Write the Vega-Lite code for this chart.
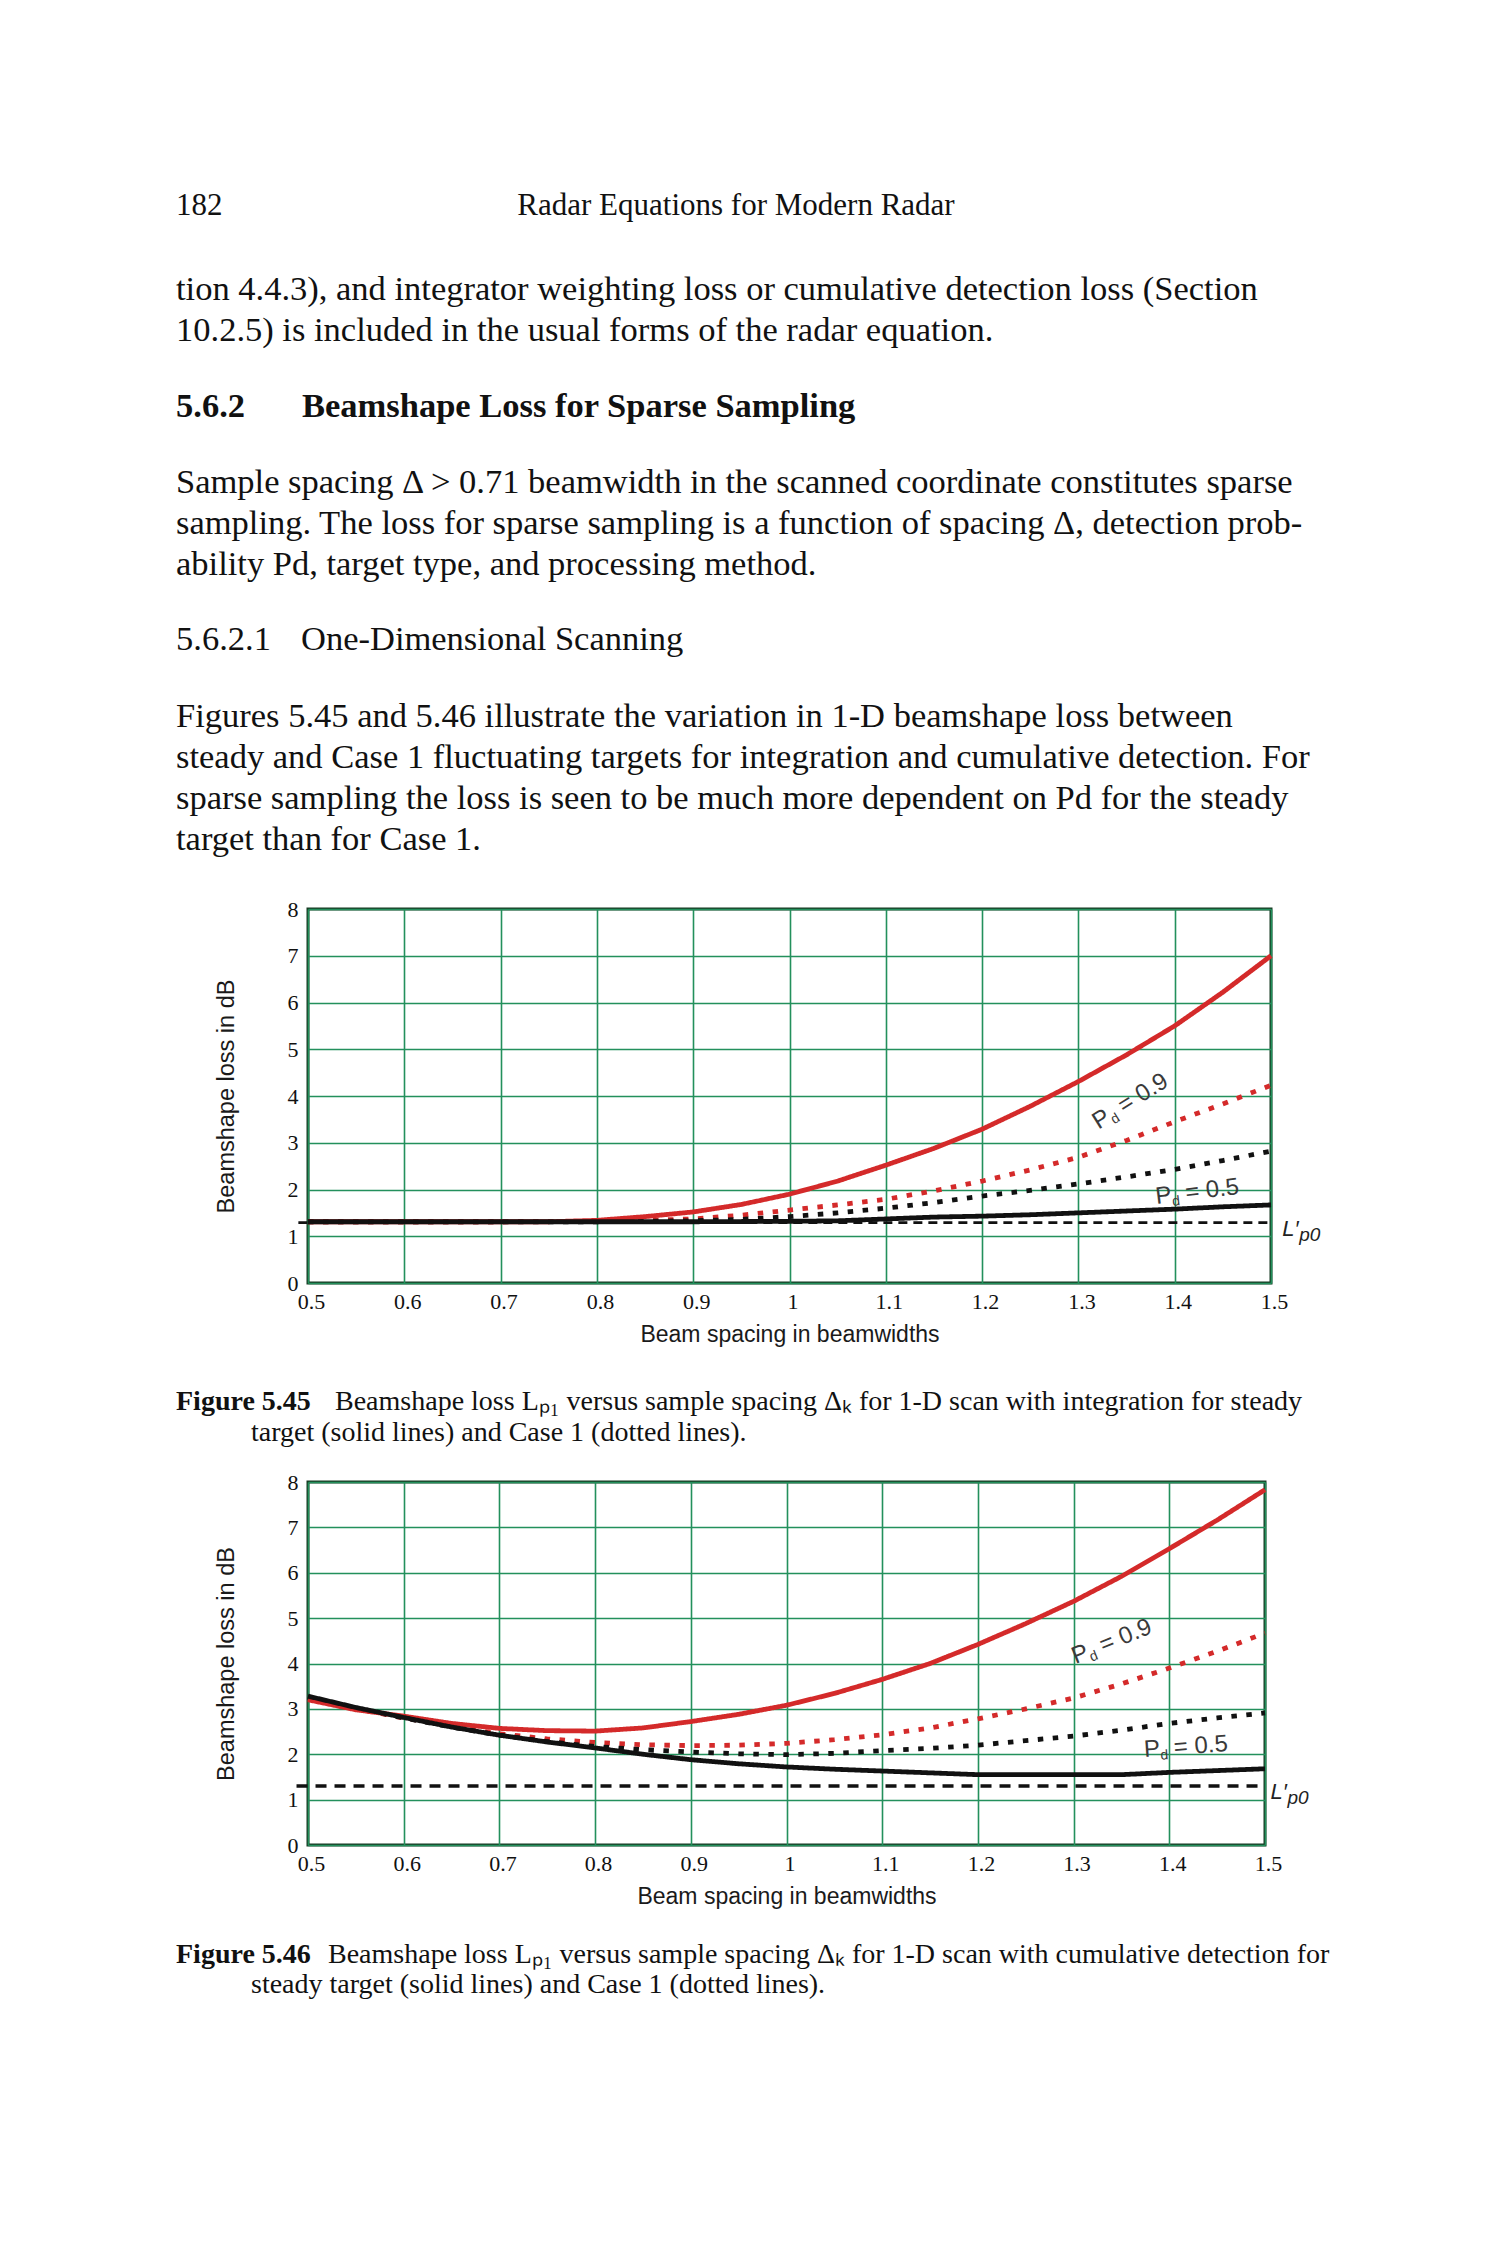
{
  "$schema": "https://vega.github.io/schema/vega-lite/v6.json",
  "background": "white",
  "padding": {"left": 176, "top": 183, "right": 20, "bottom": 20},
  "autosize": {"type": "pad"},
  "bounds": "flush",
  "spacing": 0,
  "config": {
    "view": {"stroke": null},
    "axisX": {"grid": true, "gridColor": "#23905c", "gridWidth": 1.6, "domain": false, "ticks": false, "labelFont": "Liberation Serif", "labelFontSize": 22, "labelColor": "#111111", "labelPadding": 8, "labelOffset": 3, "labelFlush": false, "labelOverlap": false, "titleFont": "Liberation Sans", "titleFontSize": 23, "titleFontWeight": "normal", "titleColor": "#1a1a1a", "titlePadding": 11},
    "axisY": {"grid": true, "gridColor": "#23905c", "gridWidth": 1.6, "domain": false, "ticks": false, "labelFont": "Liberation Serif", "labelFontSize": 22, "labelColor": "#111111", "labelPadding": 10, "labelFlush": false, "labelOverlap": false, "titleFont": "Liberation Sans", "titleFontSize": 23.5, "titleFontWeight": "normal", "titleColor": "#1a1a1a", "titlePadding": 49}
  },
  "datasets": {
    "page": [
      {"block": "folio", "line": 0, "text": "182"},
      {"block": "runninghead", "line": 0, "text": "Radar Equations for Modern Radar"},
      {"block": "p1", "line": 0, "text": "tion 4.4.3), and integrator weighting loss or cumulative detection loss (Section"},
      {"block": "p1", "line": 1, "text": "10.2.5) is included in the usual forms of the radar equation."},
      {"block": "h2num", "line": 0, "text": "5.6.2"},
      {"block": "h2", "line": 0, "text": "Beamshape Loss for Sparse Sampling"},
      {"block": "p2", "line": 0, "text": "Sample spacing Δ > 0.71 beamwidth in the scanned coordinate constitutes sparse"},
      {"block": "p2", "line": 1, "text": "sampling. The loss for sparse sampling is a function of spacing Δ, detection prob-"},
      {"block": "p2", "line": 2, "text": "ability Pd, target type, and processing method."},
      {"block": "h3num", "line": 0, "text": "5.6.2.1"},
      {"block": "h3", "line": 0, "text": "One-Dimensional Scanning"},
      {"block": "p3", "line": 0, "text": "Figures 5.45 and 5.46 illustrate the variation in 1-D beamshape loss between"},
      {"block": "p3", "line": 1, "text": "steady and Case 1 fluctuating targets for integration and cumulative detection. For"},
      {"block": "p3", "line": 2, "text": "sparse sampling the loss is seen to be much more dependent on Pd for the steady"},
      {"block": "p3", "line": 3, "text": "target than for Case 1."},
      {"block": "cap545label", "line": 0, "text": "Figure 5.45"},
      {"block": "cap545", "line": 0, "text": "Beamshape loss Lₚ₁ versus sample spacing Δₖ for 1-D scan with integration for steady"},
      {"block": "cap545", "line": 1, "text": "target (solid lines) and Case 1 (dotted lines)."},
      {"block": "cap546label", "line": 0, "text": "Figure 5.46"},
      {"block": "cap546", "line": 0, "text": "Beamshape loss Lₚ₁ versus sample spacing Δₖ for 1-D scan with cumulative detection for"},
      {"block": "cap546", "line": 1, "text": "steady target (solid lines) and Case 1 (dotted lines)."}
    ],
    "fig545": [
      {"series": "Case 1, Pd = 0.9", "spacing": 0.5, "loss": 1.31},
      {"series": "Case 1, Pd = 0.9", "spacing": 0.6, "loss": 1.31},
      {"series": "Case 1, Pd = 0.9", "spacing": 0.7, "loss": 1.31},
      {"series": "Case 1, Pd = 0.9", "spacing": 0.8, "loss": 1.32},
      {"series": "Case 1, Pd = 0.9", "spacing": 0.85, "loss": 1.34},
      {"series": "Case 1, Pd = 0.9", "spacing": 0.9, "loss": 1.37},
      {"series": "Case 1, Pd = 0.9", "spacing": 0.95, "loss": 1.45},
      {"series": "Case 1, Pd = 0.9", "spacing": 1.0, "loss": 1.56},
      {"series": "Case 1, Pd = 0.9", "spacing": 1.05, "loss": 1.67},
      {"series": "Case 1, Pd = 0.9", "spacing": 1.1, "loss": 1.79},
      {"series": "Case 1, Pd = 0.9", "spacing": 1.15, "loss": 1.97},
      {"series": "Case 1, Pd = 0.9", "spacing": 1.2, "loss": 2.18},
      {"series": "Case 1, Pd = 0.9", "spacing": 1.25, "loss": 2.42},
      {"series": "Case 1, Pd = 0.9", "spacing": 1.3, "loss": 2.69},
      {"series": "Case 1, Pd = 0.9", "spacing": 1.35, "loss": 3.05},
      {"series": "Case 1, Pd = 0.9", "spacing": 1.4, "loss": 3.45},
      {"series": "Case 1, Pd = 0.9", "spacing": 1.45, "loss": 3.83},
      {"series": "Case 1, Pd = 0.9", "spacing": 1.5, "loss": 4.23},
      {"series": "Case 1, Pd = 0.5", "spacing": 0.5, "loss": 1.31},
      {"series": "Case 1, Pd = 0.5", "spacing": 0.6, "loss": 1.31},
      {"series": "Case 1, Pd = 0.5", "spacing": 0.7, "loss": 1.31},
      {"series": "Case 1, Pd = 0.5", "spacing": 0.8, "loss": 1.31},
      {"series": "Case 1, Pd = 0.5", "spacing": 0.85, "loss": 1.32},
      {"series": "Case 1, Pd = 0.5", "spacing": 0.9, "loss": 1.33},
      {"series": "Case 1, Pd = 0.5", "spacing": 0.95, "loss": 1.36},
      {"series": "Case 1, Pd = 0.5", "spacing": 1.0, "loss": 1.42},
      {"series": "Case 1, Pd = 0.5", "spacing": 1.05, "loss": 1.5},
      {"series": "Case 1, Pd = 0.5", "spacing": 1.1, "loss": 1.6},
      {"series": "Case 1, Pd = 0.5", "spacing": 1.15, "loss": 1.72},
      {"series": "Case 1, Pd = 0.5", "spacing": 1.2, "loss": 1.86},
      {"series": "Case 1, Pd = 0.5", "spacing": 1.25, "loss": 1.98},
      {"series": "Case 1, Pd = 0.5", "spacing": 1.3, "loss": 2.12},
      {"series": "Case 1, Pd = 0.5", "spacing": 1.35, "loss": 2.27},
      {"series": "Case 1, Pd = 0.5", "spacing": 1.4, "loss": 2.43},
      {"series": "Case 1, Pd = 0.5", "spacing": 1.45, "loss": 2.62},
      {"series": "Case 1, Pd = 0.5", "spacing": 1.5, "loss": 2.82},
      {"series": "Steady target, Pd = 0.9", "spacing": 0.5, "loss": 1.31},
      {"series": "Steady target, Pd = 0.9", "spacing": 0.6, "loss": 1.31},
      {"series": "Steady target, Pd = 0.9", "spacing": 0.7, "loss": 1.31},
      {"series": "Steady target, Pd = 0.9", "spacing": 0.75, "loss": 1.31},
      {"series": "Steady target, Pd = 0.9", "spacing": 0.8, "loss": 1.34},
      {"series": "Steady target, Pd = 0.9", "spacing": 0.85, "loss": 1.42},
      {"series": "Steady target, Pd = 0.9", "spacing": 0.9, "loss": 1.52},
      {"series": "Steady target, Pd = 0.9", "spacing": 0.95, "loss": 1.68},
      {"series": "Steady target, Pd = 0.9", "spacing": 1.0, "loss": 1.9},
      {"series": "Steady target, Pd = 0.9", "spacing": 1.05, "loss": 2.18},
      {"series": "Steady target, Pd = 0.9", "spacing": 1.1, "loss": 2.52},
      {"series": "Steady target, Pd = 0.9", "spacing": 1.15, "loss": 2.88},
      {"series": "Steady target, Pd = 0.9", "spacing": 1.2, "loss": 3.29},
      {"series": "Steady target, Pd = 0.9", "spacing": 1.25, "loss": 3.78},
      {"series": "Steady target, Pd = 0.9", "spacing": 1.3, "loss": 4.31},
      {"series": "Steady target, Pd = 0.9", "spacing": 1.35, "loss": 4.88},
      {"series": "Steady target, Pd = 0.9", "spacing": 1.4, "loss": 5.5},
      {"series": "Steady target, Pd = 0.9", "spacing": 1.45, "loss": 6.22},
      {"series": "Steady target, Pd = 0.9", "spacing": 1.5, "loss": 7.0},
      {"series": "Steady target, Pd = 0.5", "spacing": 0.5, "loss": 1.31},
      {"series": "Steady target, Pd = 0.5", "spacing": 0.6, "loss": 1.31},
      {"series": "Steady target, Pd = 0.5", "spacing": 0.7, "loss": 1.31},
      {"series": "Steady target, Pd = 0.5", "spacing": 0.8, "loss": 1.31},
      {"series": "Steady target, Pd = 0.5", "spacing": 0.9, "loss": 1.31},
      {"series": "Steady target, Pd = 0.5", "spacing": 1.0, "loss": 1.32},
      {"series": "Steady target, Pd = 0.5", "spacing": 1.05, "loss": 1.33},
      {"series": "Steady target, Pd = 0.5", "spacing": 1.1, "loss": 1.37},
      {"series": "Steady target, Pd = 0.5", "spacing": 1.15, "loss": 1.41},
      {"series": "Steady target, Pd = 0.5", "spacing": 1.2, "loss": 1.43},
      {"series": "Steady target, Pd = 0.5", "spacing": 1.25, "loss": 1.46},
      {"series": "Steady target, Pd = 0.5", "spacing": 1.3, "loss": 1.5},
      {"series": "Steady target, Pd = 0.5", "spacing": 1.35, "loss": 1.54},
      {"series": "Steady target, Pd = 0.5", "spacing": 1.4, "loss": 1.58},
      {"series": "Steady target, Pd = 0.5", "spacing": 1.45, "loss": 1.63},
      {"series": "Steady target, Pd = 0.5", "spacing": 1.5, "loss": 1.67}
    ],
    "fig546": [
      {"series": "Case 1, Pd = 0.9", "spacing": 0.5, "loss": 3.22},
      {"series": "Case 1, Pd = 0.9", "spacing": 0.55, "loss": 3.0},
      {"series": "Case 1, Pd = 0.9", "spacing": 0.6, "loss": 2.8},
      {"series": "Case 1, Pd = 0.9", "spacing": 0.65, "loss": 2.62},
      {"series": "Case 1, Pd = 0.9", "spacing": 0.7, "loss": 2.45},
      {"series": "Case 1, Pd = 0.9", "spacing": 0.75, "loss": 2.34},
      {"series": "Case 1, Pd = 0.9", "spacing": 0.8, "loss": 2.26},
      {"series": "Case 1, Pd = 0.9", "spacing": 0.85, "loss": 2.21},
      {"series": "Case 1, Pd = 0.9", "spacing": 0.9, "loss": 2.19},
      {"series": "Case 1, Pd = 0.9", "spacing": 0.95, "loss": 2.2},
      {"series": "Case 1, Pd = 0.9", "spacing": 1.0, "loss": 2.24},
      {"series": "Case 1, Pd = 0.9", "spacing": 1.05, "loss": 2.32},
      {"series": "Case 1, Pd = 0.9", "spacing": 1.1, "loss": 2.43},
      {"series": "Case 1, Pd = 0.9", "spacing": 1.15, "loss": 2.58},
      {"series": "Case 1, Pd = 0.9", "spacing": 1.2, "loss": 2.78},
      {"series": "Case 1, Pd = 0.9", "spacing": 1.25, "loss": 3.0},
      {"series": "Case 1, Pd = 0.9", "spacing": 1.3, "loss": 3.24},
      {"series": "Case 1, Pd = 0.9", "spacing": 1.35, "loss": 3.55},
      {"series": "Case 1, Pd = 0.9", "spacing": 1.4, "loss": 3.9},
      {"series": "Case 1, Pd = 0.9", "spacing": 1.45, "loss": 4.27},
      {"series": "Case 1, Pd = 0.9", "spacing": 1.5, "loss": 4.67},
      {"series": "Case 1, Pd = 0.5", "spacing": 0.5, "loss": 3.26},
      {"series": "Case 1, Pd = 0.5", "spacing": 0.55, "loss": 3.02},
      {"series": "Case 1, Pd = 0.5", "spacing": 0.6, "loss": 2.8},
      {"series": "Case 1, Pd = 0.5", "spacing": 0.65, "loss": 2.6},
      {"series": "Case 1, Pd = 0.5", "spacing": 0.7, "loss": 2.42},
      {"series": "Case 1, Pd = 0.5", "spacing": 0.75, "loss": 2.28},
      {"series": "Case 1, Pd = 0.5", "spacing": 0.8, "loss": 2.17},
      {"series": "Case 1, Pd = 0.5", "spacing": 0.85, "loss": 2.1},
      {"series": "Case 1, Pd = 0.5", "spacing": 0.9, "loss": 2.05},
      {"series": "Case 1, Pd = 0.5", "spacing": 0.95, "loss": 2.01},
      {"series": "Case 1, Pd = 0.5", "spacing": 1.0, "loss": 1.99},
      {"series": "Case 1, Pd = 0.5", "spacing": 1.05, "loss": 2.02},
      {"series": "Case 1, Pd = 0.5", "spacing": 1.1, "loss": 2.08},
      {"series": "Case 1, Pd = 0.5", "spacing": 1.15, "loss": 2.13},
      {"series": "Case 1, Pd = 0.5", "spacing": 1.2, "loss": 2.2},
      {"series": "Case 1, Pd = 0.5", "spacing": 1.25, "loss": 2.3},
      {"series": "Case 1, Pd = 0.5", "spacing": 1.3, "loss": 2.4},
      {"series": "Case 1, Pd = 0.5", "spacing": 1.35, "loss": 2.53},
      {"series": "Case 1, Pd = 0.5", "spacing": 1.4, "loss": 2.68},
      {"series": "Case 1, Pd = 0.5", "spacing": 1.45, "loss": 2.8},
      {"series": "Case 1, Pd = 0.5", "spacing": 1.5, "loss": 2.91},
      {"series": "Steady target, Pd = 0.9", "spacing": 0.5, "loss": 3.2},
      {"series": "Steady target, Pd = 0.9", "spacing": 0.55, "loss": 2.98},
      {"series": "Steady target, Pd = 0.9", "spacing": 0.6, "loss": 2.84},
      {"series": "Steady target, Pd = 0.9", "spacing": 0.65, "loss": 2.68},
      {"series": "Steady target, Pd = 0.9", "spacing": 0.7, "loss": 2.57},
      {"series": "Steady target, Pd = 0.9", "spacing": 0.75, "loss": 2.52},
      {"series": "Steady target, Pd = 0.9", "spacing": 0.8, "loss": 2.51},
      {"series": "Steady target, Pd = 0.9", "spacing": 0.85, "loss": 2.58},
      {"series": "Steady target, Pd = 0.9", "spacing": 0.9, "loss": 2.72},
      {"series": "Steady target, Pd = 0.9", "spacing": 0.95, "loss": 2.88},
      {"series": "Steady target, Pd = 0.9", "spacing": 1.0, "loss": 3.08},
      {"series": "Steady target, Pd = 0.9", "spacing": 1.05, "loss": 3.34},
      {"series": "Steady target, Pd = 0.9", "spacing": 1.1, "loss": 3.65},
      {"series": "Steady target, Pd = 0.9", "spacing": 1.15, "loss": 4.0},
      {"series": "Steady target, Pd = 0.9", "spacing": 1.2, "loss": 4.42},
      {"series": "Steady target, Pd = 0.9", "spacing": 1.25, "loss": 4.88},
      {"series": "Steady target, Pd = 0.9", "spacing": 1.3, "loss": 5.37},
      {"series": "Steady target, Pd = 0.9", "spacing": 1.35, "loss": 5.92},
      {"series": "Steady target, Pd = 0.9", "spacing": 1.4, "loss": 6.53},
      {"series": "Steady target, Pd = 0.9", "spacing": 1.45, "loss": 7.16},
      {"series": "Steady target, Pd = 0.9", "spacing": 1.5, "loss": 7.83},
      {"series": "Steady target, Pd = 0.5", "spacing": 0.5, "loss": 3.28},
      {"series": "Steady target, Pd = 0.5", "spacing": 0.55, "loss": 3.03},
      {"series": "Steady target, Pd = 0.5", "spacing": 0.6, "loss": 2.81},
      {"series": "Steady target, Pd = 0.5", "spacing": 0.65, "loss": 2.6},
      {"series": "Steady target, Pd = 0.5", "spacing": 0.7, "loss": 2.42},
      {"series": "Steady target, Pd = 0.5", "spacing": 0.75, "loss": 2.27},
      {"series": "Steady target, Pd = 0.5", "spacing": 0.8, "loss": 2.14},
      {"series": "Steady target, Pd = 0.5", "spacing": 0.85, "loss": 2.0},
      {"series": "Steady target, Pd = 0.5", "spacing": 0.9, "loss": 1.88},
      {"series": "Steady target, Pd = 0.5", "spacing": 0.95, "loss": 1.79},
      {"series": "Steady target, Pd = 0.5", "spacing": 1.0, "loss": 1.72},
      {"series": "Steady target, Pd = 0.5", "spacing": 1.05, "loss": 1.67},
      {"series": "Steady target, Pd = 0.5", "spacing": 1.1, "loss": 1.63},
      {"series": "Steady target, Pd = 0.5", "spacing": 1.15, "loss": 1.59},
      {"series": "Steady target, Pd = 0.5", "spacing": 1.2, "loss": 1.55},
      {"series": "Steady target, Pd = 0.5", "spacing": 1.25, "loss": 1.55},
      {"series": "Steady target, Pd = 0.5", "spacing": 1.3, "loss": 1.55},
      {"series": "Steady target, Pd = 0.5", "spacing": 1.35, "loss": 1.55},
      {"series": "Steady target, Pd = 0.5", "spacing": 1.4, "loss": 1.6},
      {"series": "Steady target, Pd = 0.5", "spacing": 1.45, "loss": 1.64},
      {"series": "Steady target, Pd = 0.5", "spacing": 1.5, "loss": 1.68}
    ],
    "lp0_545": [{"spacing": 0.49, "end": 1.5, "loss": 1.29}],
    "lp0_546": [{"spacing": 0.488, "end": 1.5, "loss": 1.3}],
    "labels545": [
      {"curve": "0.9", "spacing": 1.321, "loss": 3.28, "symbol": "P", "subscript": "d", "value": "= 0.9"},
      {"curve": "0.5", "spacing": 1.381, "loss": 1.69, "symbol": "P", "subscript": "d", "value": "= 0.5"},
      {"curve": "Lp0", "spacing": 1.5117, "loss": 1.01, "symbol": "L′", "subscript": "p0", "value": ""}
    ],
    "labels546": [
      {"curve": "0.9", "spacing": 1.302, "loss": 3.99, "symbol": "P", "subscript": "d", "value": "= 0.9"},
      {"curve": "0.5", "spacing": 1.374, "loss": 1.94, "symbol": "P", "subscript": "d", "value": "= 0.5"},
      {"curve": "Lp0", "spacing": 1.5058, "loss": 1.024, "symbol": "L′", "subscript": "p0", "value": ""}
    ]
  },
  "vconcat": [
    {
      "width": 963, "height": 86,
      "data": {"name": "page"},
      "layer": [
        {"transform": [{"filter": "datum.block == 'folio'"}],
         "mark": {"type": "text", "align": "left", "baseline": "middle", "font": "Liberation Serif", "fontSize": 31, "color": "#111111"},
         "encoding": {"x": {"value": -132}, "y": {"field": "line", "type": "quantitative", "scale": {"domain": [0, 1], "range": [23, 64], "nice": false, "zero": false}, "axis": null}, "text": {"field": "text"}}},
        {"transform": [{"filter": "datum.block == 'runninghead'"}],
         "mark": {"type": "text", "align": "center", "baseline": "middle", "font": "Liberation Serif", "fontSize": 31, "color": "#111111"},
         "encoding": {"x": {"value": 428}, "y": {"field": "line", "type": "quantitative", "scale": {"domain": [0, 1], "range": [23, 64], "nice": false, "zero": false}, "axis": null}, "text": {"field": "text"}}}
      ]
    },
    {
      "width": 963, "height": 117,
      "data": {"name": "page"},
      "transform": [{"filter": "datum.block == 'p1'"}],
      "mark": {"type": "text", "align": "left", "baseline": "middle", "font": "Liberation Serif", "fontSize": 34.5, "color": "#111111"},
      "encoding": {"x": {"value": -132}, "y": {"field": "line", "type": "quantitative", "scale": {"domain": [0, 1], "range": [21, 61.5], "nice": false, "zero": false}, "axis": null}, "text": {"field": "text"}}
    },
    {
      "width": 963, "height": 76,
      "data": {"name": "page"},
      "layer": [
        {"transform": [{"filter": "datum.block == 'h2num'"}],
         "mark": {"type": "text", "align": "left", "baseline": "middle", "font": "Liberation Serif", "fontSize": 34.5, "fontWeight": "bold", "color": "#111111"},
         "encoding": {"x": {"value": -132}, "y": {"field": "line", "type": "quantitative", "scale": {"domain": [0, 1], "range": [21, 62], "nice": false, "zero": false}, "axis": null}, "text": {"field": "text"}}},
        {"transform": [{"filter": "datum.block == 'h2'"}],
         "mark": {"type": "text", "align": "left", "baseline": "middle", "font": "Liberation Serif", "fontSize": 34.5, "fontWeight": "bold", "color": "#111111"},
         "encoding": {"x": {"value": -6}, "y": {"field": "line", "type": "quantitative", "scale": {"domain": [0, 1], "range": [21, 62], "nice": false, "zero": false}, "axis": null}, "text": {"field": "text"}}}
      ]
    },
    {
      "width": 963, "height": 157,
      "data": {"name": "page"},
      "transform": [{"filter": "datum.block == 'p2'"}],
      "mark": {"type": "text", "align": "left", "baseline": "middle", "font": "Liberation Serif", "fontSize": 34.5, "color": "#111111"},
      "encoding": {"x": {"value": -132}, "y": {"field": "line", "type": "quantitative", "scale": {"domain": [0, 1], "range": [21, 62], "nice": false, "zero": false}, "axis": null}, "text": {"field": "text"}}
    },
    {
      "width": 963, "height": 77,
      "data": {"name": "page"},
      "layer": [
        {"transform": [{"filter": "datum.block == 'h3num'"}],
         "mark": {"type": "text", "align": "left", "baseline": "middle", "font": "Liberation Serif", "fontSize": 34.5, "color": "#111111"},
         "encoding": {"x": {"value": -132}, "y": {"field": "line", "type": "quantitative", "scale": {"domain": [0, 1], "range": [21, 62], "nice": false, "zero": false}, "axis": null}, "text": {"field": "text"}}},
        {"transform": [{"filter": "datum.block == 'h3'"}],
         "mark": {"type": "text", "align": "left", "baseline": "middle", "font": "Liberation Serif", "fontSize": 34.5, "color": "#111111"},
         "encoding": {"x": {"value": -7}, "y": {"field": "line", "type": "quantitative", "scale": {"domain": [0, 1], "range": [21, 62], "nice": false, "zero": false}, "axis": null}, "text": {"field": "text"}}}
      ]
    },
    {
      "width": 963, "height": 213,
      "data": {"name": "page"},
      "transform": [{"filter": "datum.block == 'p3'"}],
      "mark": {"type": "text", "align": "left", "baseline": "middle", "font": "Liberation Serif", "fontSize": 34.5, "color": "#111111"},
      "encoding": {"x": {"value": -132}, "y": {"field": "line", "type": "quantitative", "scale": {"domain": [0, 1], "range": [21, 62], "nice": false, "zero": false}, "axis": null}, "text": {"field": "text"}}
    },
    {
      "width": 963, "height": 374,
      "view": {"stroke": "#173a22", "strokeWidth": 3},
      "layer": [
        {"data": {"name": "lp0_545"},
         "mark": {"type": "rule", "color": "#111111", "strokeWidth": 2.7, "strokeDash": [9, 6]},
         "encoding": {
           "x": {"field": "spacing", "type": "quantitative", "title": "Beam spacing in beamwidths", "scale": {"domain": [0.5, 1.5], "nice": false, "zero": false}, "axis": {"values": [0.5, 0.6, 0.7, 0.8, 0.9, 1, 1.1, 1.2, 1.3, 1.4, 1.5], "format": "~g"}},
           "x2": {"field": "end"},
           "y": {"field": "loss", "type": "quantitative", "title": "Beamshape loss in dB", "scale": {"domain": [0, 8], "nice": false}, "axis": {"values": [0, 1, 2, 3, 4, 5, 6, 7, 8]}}
         }},
        {"data": {"name": "fig545"},
         "mark": {"type": "line", "strokeCap": "butt", "strokeJoin": "round"},
         "encoding": {
           "x": {"field": "spacing", "type": "quantitative", "title": "Beam spacing in beamwidths"},
           "y": {"field": "loss", "type": "quantitative", "title": "Beamshape loss in dB"},
           "color": {"field": "series", "type": "nominal", "scale": {"domain": ["Case 1, Pd = 0.9", "Case 1, Pd = 0.5", "Steady target, Pd = 0.9", "Steady target, Pd = 0.5"], "range": ["#d42a2a", "#111111", "#d42a2a", "#111111"]}, "legend": null},
           "strokeDash": {"field": "series", "type": "nominal", "scale": {"domain": ["Case 1, Pd = 0.9", "Case 1, Pd = 0.5", "Steady target, Pd = 0.9", "Steady target, Pd = 0.5"], "range": [[5.5, 9.5], [5.5, 9.5], [1, 0], [1, 0]]}, "legend": null},
           "strokeWidth": {"field": "series", "type": "ordinal", "scale": {"domain": ["Case 1, Pd = 0.9", "Case 1, Pd = 0.5", "Steady target, Pd = 0.9", "Steady target, Pd = 0.5"], "range": [4.8, 4.8, 4, 5]}, "legend": null}
         }},
        {"data": {"name": "labels545"},
         "transform": [{"filter": "datum.curve == '0.9'"}],
         "encoding": {"x": {"field": "spacing", "type": "quantitative", "title": "Beam spacing in beamwidths"}, "y": {"field": "loss", "type": "quantitative", "title": "Beamshape loss in dB"}},
         "layer": [
           {"mark": {"type": "text", "align": "left", "baseline": "alphabetic", "angle": -32, "font": "Liberation Sans", "fontSize": 24, "color": "#3a3a3a"}, "encoding": {"text": {"field": "symbol"}}},
           {"mark": {"type": "text", "align": "left", "baseline": "alphabetic", "angle": -32, "dx": 16, "dy": 4, "font": "Liberation Sans", "fontSize": 14, "color": "#3a3a3a"}, "encoding": {"text": {"field": "subscript"}}},
           {"mark": {"type": "text", "align": "left", "baseline": "alphabetic", "angle": -32, "dx": 30, "font": "Liberation Sans", "fontSize": 24, "color": "#3a3a3a"}, "encoding": {"text": {"field": "value"}}}
         ]},
        {"data": {"name": "labels545"},
         "transform": [{"filter": "datum.curve == '0.5'"}],
         "encoding": {"x": {"field": "spacing", "type": "quantitative", "title": "Beam spacing in beamwidths"}, "y": {"field": "loss", "type": "quantitative", "title": "Beamshape loss in dB"}},
         "layer": [
           {"mark": {"type": "text", "align": "left", "baseline": "alphabetic", "angle": -7, "font": "Liberation Sans", "fontSize": 24, "color": "#3a3a3a"}, "encoding": {"text": {"field": "symbol"}}},
           {"mark": {"type": "text", "align": "left", "baseline": "alphabetic", "angle": -7, "dx": 16, "dy": 4, "font": "Liberation Sans", "fontSize": 14, "color": "#3a3a3a"}, "encoding": {"text": {"field": "subscript"}}},
           {"mark": {"type": "text", "align": "left", "baseline": "alphabetic", "angle": -7, "dx": 30, "font": "Liberation Sans", "fontSize": 24, "color": "#3a3a3a"}, "encoding": {"text": {"field": "value"}}}
         ]},
        {"data": {"name": "labels545"},
         "transform": [{"filter": "datum.curve == 'Lp0'"}],
         "encoding": {"x": {"field": "spacing", "type": "quantitative", "title": "Beam spacing in beamwidths"}, "y": {"field": "loss", "type": "quantitative", "title": "Beamshape loss in dB"}},
         "layer": [
           {"mark": {"type": "text", "align": "left", "baseline": "alphabetic", "font": "Liberation Sans", "fontStyle": "italic", "fontSize": 22, "color": "#222222"}, "encoding": {"text": {"field": "symbol"}}},
           {"mark": {"type": "text", "align": "left", "baseline": "alphabetic", "dx": 17, "dy": 5, "font": "Liberation Sans", "fontStyle": "italic", "fontSize": 19, "color": "#222222"}, "encoding": {"text": {"field": "subscript"}}}
         ]}
      ]
    },
    {
      "width": 963, "height": 199,
      "data": {"name": "page"},
      "layer": [
        {"transform": [{"filter": "datum.block == 'cap545label'"}],
         "mark": {"type": "text", "align": "left", "baseline": "middle", "font": "Liberation Serif", "fontSize": 28, "fontWeight": "bold", "color": "#111111"},
         "encoding": {"x": {"value": -132}, "y": {"field": "line", "type": "quantitative", "scale": {"domain": [0, 1], "range": [119, 150], "nice": false, "zero": false}, "axis": null}, "text": {"field": "text"}}},
        {"transform": [{"filter": "datum.block == 'cap545' && datum.line == 0"}],
         "mark": {"type": "text", "align": "left", "baseline": "middle", "font": "Liberation Serif", "fontSize": 28, "color": "#111111"},
         "encoding": {"x": {"value": 27}, "y": {"field": "line", "type": "quantitative", "scale": {"domain": [0, 1], "range": [119, 150], "nice": false, "zero": false}, "axis": null}, "text": {"field": "text"}}},
        {"transform": [{"filter": "datum.block == 'cap545' && datum.line == 1"}],
         "mark": {"type": "text", "align": "left", "baseline": "middle", "font": "Liberation Serif", "fontSize": 28, "color": "#111111"},
         "encoding": {"x": {"value": -57}, "y": {"field": "line", "type": "quantitative", "scale": {"domain": [0, 1], "range": [119, 150], "nice": false, "zero": false}, "axis": null}, "text": {"field": "text"}}}
      ]
    },
    {
      "width": 957, "height": 363,
      "view": {"stroke": "#173a22", "strokeWidth": 3},
      "layer": [
        {"data": {"name": "lp0_546"},
         "mark": {"type": "rule", "color": "#111111", "strokeWidth": 3.5, "strokeDash": [11, 8]},
         "encoding": {
           "x": {"field": "spacing", "type": "quantitative", "title": "Beam spacing in beamwidths", "scale": {"domain": [0.5, 1.5], "nice": false, "zero": false}, "axis": {"values": [0.5, 0.6, 0.7, 0.8, 0.9, 1, 1.1, 1.2, 1.3, 1.4, 1.5], "format": "~g"}},
           "x2": {"field": "end"},
           "y": {"field": "loss", "type": "quantitative", "title": "Beamshape loss in dB", "scale": {"domain": [0, 8], "nice": false}, "axis": {"values": [0, 1, 2, 3, 4, 5, 6, 7, 8]}}
         }},
        {"data": {"name": "fig546"},
         "mark": {"type": "line", "strokeCap": "butt", "strokeJoin": "round"},
         "encoding": {
           "x": {"field": "spacing", "type": "quantitative", "title": "Beam spacing in beamwidths"},
           "y": {"field": "loss", "type": "quantitative", "title": "Beamshape loss in dB"},
           "color": {"field": "series", "type": "nominal", "scale": {"domain": ["Case 1, Pd = 0.9", "Case 1, Pd = 0.5", "Steady target, Pd = 0.9", "Steady target, Pd = 0.5"], "range": ["#d42a2a", "#111111", "#d42a2a", "#111111"]}, "legend": null},
           "strokeDash": {"field": "series", "type": "nominal", "scale": {"domain": ["Case 1, Pd = 0.9", "Case 1, Pd = 0.5", "Steady target, Pd = 0.9", "Steady target, Pd = 0.5"], "range": [[5.5, 9.5], [5.5, 9.5], [1, 0], [1, 0]]}, "legend": null},
           "strokeWidth": {"field": "series", "type": "ordinal", "scale": {"domain": ["Case 1, Pd = 0.9", "Case 1, Pd = 0.5", "Steady target, Pd = 0.9", "Steady target, Pd = 0.5"], "range": [4.8, 4.8, 4, 5]}, "legend": null}
         }},
        {"data": {"name": "labels546"},
         "transform": [{"filter": "datum.curve == '0.9'"}],
         "encoding": {"x": {"field": "spacing", "type": "quantitative", "title": "Beam spacing in beamwidths"}, "y": {"field": "loss", "type": "quantitative", "title": "Beamshape loss in dB"}},
         "layer": [
           {"mark": {"type": "text", "align": "left", "baseline": "alphabetic", "angle": -22, "font": "Liberation Sans", "fontSize": 24, "color": "#3a3a3a"}, "encoding": {"text": {"field": "symbol"}}},
           {"mark": {"type": "text", "align": "left", "baseline": "alphabetic", "angle": -22, "dx": 16, "dy": 4, "font": "Liberation Sans", "fontSize": 14, "color": "#3a3a3a"}, "encoding": {"text": {"field": "subscript"}}},
           {"mark": {"type": "text", "align": "left", "baseline": "alphabetic", "angle": -22, "dx": 30, "font": "Liberation Sans", "fontSize": 24, "color": "#3a3a3a"}, "encoding": {"text": {"field": "value"}}}
         ]},
        {"data": {"name": "labels546"},
         "transform": [{"filter": "datum.curve == '0.5'"}],
         "encoding": {"x": {"field": "spacing", "type": "quantitative", "title": "Beam spacing in beamwidths"}, "y": {"field": "loss", "type": "quantitative", "title": "Beamshape loss in dB"}},
         "layer": [
           {"mark": {"type": "text", "align": "left", "baseline": "alphabetic", "angle": -4, "font": "Liberation Sans", "fontSize": 24, "color": "#3a3a3a"}, "encoding": {"text": {"field": "symbol"}}},
           {"mark": {"type": "text", "align": "left", "baseline": "alphabetic", "angle": -4, "dx": 16, "dy": 4, "font": "Liberation Sans", "fontSize": 14, "color": "#3a3a3a"}, "encoding": {"text": {"field": "subscript"}}},
           {"mark": {"type": "text", "align": "left", "baseline": "alphabetic", "angle": -4, "dx": 30, "font": "Liberation Sans", "fontSize": 24, "color": "#3a3a3a"}, "encoding": {"text": {"field": "value"}}}
         ]},
        {"data": {"name": "labels546"},
         "transform": [{"filter": "datum.curve == 'Lp0'"}],
         "encoding": {"x": {"field": "spacing", "type": "quantitative", "title": "Beam spacing in beamwidths"}, "y": {"field": "loss", "type": "quantitative", "title": "Beamshape loss in dB"}},
         "layer": [
           {"mark": {"type": "text", "align": "left", "baseline": "alphabetic", "font": "Liberation Sans", "fontStyle": "italic", "fontSize": 22, "color": "#222222"}, "encoding": {"text": {"field": "symbol"}}},
           {"mark": {"type": "text", "align": "left", "baseline": "alphabetic", "dx": 17, "dy": 5, "font": "Liberation Sans", "fontStyle": "italic", "fontSize": 19, "color": "#222222"}, "encoding": {"text": {"field": "subscript"}}}
         ]}
      ]
    },
    {
      "width": 957, "height": 180,
      "data": {"name": "page"},
      "layer": [
        {"transform": [{"filter": "datum.block == 'cap546label'"}],
         "mark": {"type": "text", "align": "left", "baseline": "middle", "font": "Liberation Serif", "fontSize": 28, "fontWeight": "bold", "color": "#111111"},
         "encoding": {"x": {"value": -132}, "y": {"field": "line", "type": "quantitative", "scale": {"domain": [0, 1], "range": [110, 140], "nice": false, "zero": false}, "axis": null}, "text": {"field": "text"}}},
        {"transform": [{"filter": "datum.block == 'cap546' && datum.line == 0"}],
         "mark": {"type": "text", "align": "left", "baseline": "middle", "font": "Liberation Serif", "fontSize": 28, "color": "#111111"},
         "encoding": {"x": {"value": 20}, "y": {"field": "line", "type": "quantitative", "scale": {"domain": [0, 1], "range": [110, 140], "nice": false, "zero": false}, "axis": null}, "text": {"field": "text"}}},
        {"transform": [{"filter": "datum.block == 'cap546' && datum.line == 1"}],
         "mark": {"type": "text", "align": "left", "baseline": "middle", "font": "Liberation Serif", "fontSize": 28, "color": "#111111"},
         "encoding": {"x": {"value": -57}, "y": {"field": "line", "type": "quantitative", "scale": {"domain": [0, 1], "range": [110, 140], "nice": false, "zero": false}, "axis": null}, "text": {"field": "text"}}}
      ]
    }
  ]
}
